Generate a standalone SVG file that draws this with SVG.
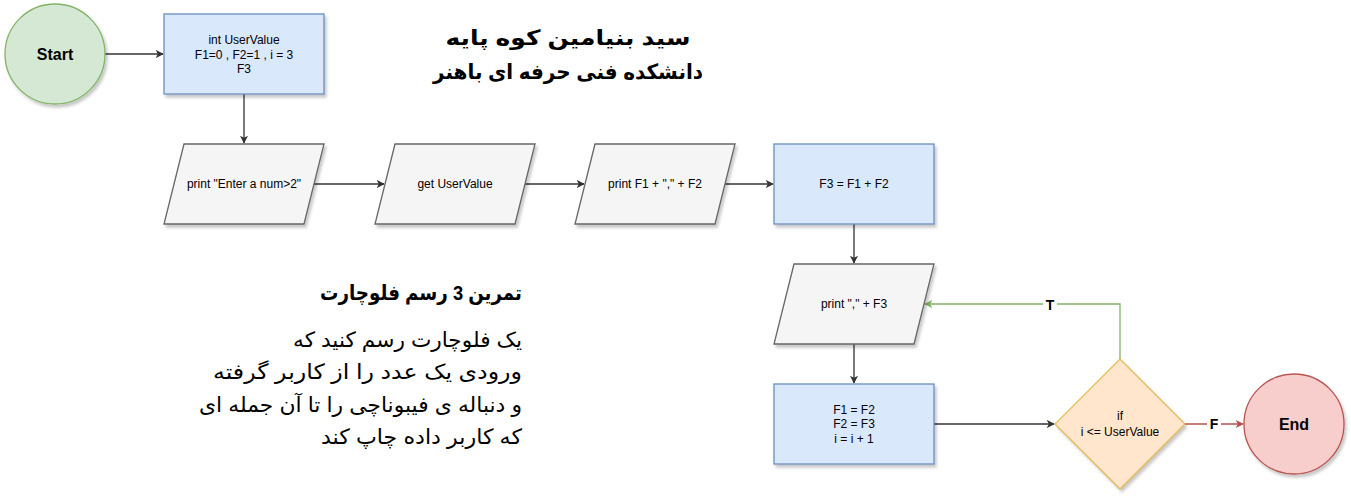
<svg xmlns="http://www.w3.org/2000/svg" width="1351" height="502" viewBox="0 0 1351 502">
<defs>
<filter id="sh" x="-20%" y="-20%" width="150%" height="150%">
<feDropShadow dx="2" dy="3" stdDeviation="1.5" flood-color="#000" flood-opacity="0.22"/>
</filter>
<marker id="ab" viewBox="0 0 10 10" refX="9" refY="5" markerWidth="8" markerHeight="8" markerUnits="userSpaceOnUse" orient="auto"><path d="M0,0 L10,5 L0,10 L2.5,5 Z" fill="#333"/></marker>
<marker id="ag" viewBox="0 0 10 10" refX="9" refY="5" markerWidth="8" markerHeight="8" markerUnits="userSpaceOnUse" orient="auto"><path d="M0,0 L10,5 L0,10 L2.5,5 Z" fill="#82b366"/></marker>
<marker id="ar" viewBox="0 0 10 10" refX="9" refY="5" markerWidth="8" markerHeight="8" markerUnits="userSpaceOnUse" orient="auto"><path d="M0,0 L10,5 L0,10 L2.5,5 Z" fill="#b85450"/></marker>
</defs>
<style>
text{font-family:"Liberation Sans","DejaVu Sans",Arial,sans-serif;fill:#000}
.lbl{font-size:12px;text-anchor:middle}
.big{font-size:16px;font-weight:bold;text-anchor:middle}
.blue{fill:#dae8fc;stroke:#6c8ebf;stroke-width:1.3}
.gray{fill:#f5f5f5;stroke:#666;stroke-width:1.3}
.c{fill:none;stroke:#333;stroke-width:1.3}
.title{font-size:21px;font-weight:bold;text-anchor:middle}
.fa{font-size:21px;text-anchor:end}
</style>
<g id="connectors">
<path class="c" d="M105,54 L163,54" marker-end="url(#ab)"/>
<path class="c" d="M244,94 L244,143" marker-end="url(#ab)"/>
<path class="c" d="M314,184 L384,184" marker-end="url(#ab)"/>
<path class="c" d="M525,184 L584,184" marker-end="url(#ab)"/>
<path class="c" d="M725,184 L773,184" marker-end="url(#ab)"/>
<path class="c" d="M854,224 L854,263" marker-end="url(#ab)"/>
<path class="c" d="M854,344 L854,383" marker-end="url(#ab)"/>
<path class="c" d="M934,424 L1054,424" marker-end="url(#ab)"/>
<path d="M1120,359 L1120,304 L925,304" fill="none" stroke="#82b366" stroke-width="1.3" marker-end="url(#ag)"/>
<path d="M1185,424 L1243,424" fill="none" stroke="#b85450" stroke-width="1.3" marker-end="url(#ar)"/>
<rect x="1043" y="296" width="14" height="16" fill="#fff"/>
<text x="1050" y="310" style="font-size:14px;font-weight:bold;text-anchor:middle">T</text>
<rect x="1207" y="416" width="14" height="16" fill="#fff"/>
<text x="1214" y="429" style="font-size:14px;font-weight:bold;text-anchor:middle">F</text>
</g>
<g id="start">
<circle cx="55" cy="54" r="50" fill="#d5e8d4" stroke="#82b366" stroke-width="1.3" filter="url(#sh)"/>
<text class="big" x="55" y="60">Start</text>
</g>
<g id="init">
<rect class="blue" x="164" y="14" width="160" height="80" filter="url(#sh)"/>
<text class="lbl" x="244" y="44">int UserValue</text>
<text class="lbl" x="244" y="59">F1=0 , F2=1 , i = 3</text>
<text class="lbl" x="244" y="73">F3</text>
</g>
<g id="print1">
<polygon class="gray" points="184,144 324,144 304,224 164,224" filter="url(#sh)"/>
<text class="lbl" x="244" y="188">print "Enter a num&gt;2"</text>
</g>
<g id="get">
<polygon class="gray" points="395,144 535,144 515,224 375,224" filter="url(#sh)"/>
<text class="lbl" x="455" y="188">get UserValue</text>
</g>
<g id="print2">
<polygon class="gray" points="595,144 735,144 715,224 575,224" filter="url(#sh)"/>
<text class="lbl" x="655" y="188">print F1 + "," + F2</text>
</g>
<g id="calc">
<rect class="blue" x="774" y="144" width="160" height="80" filter="url(#sh)"/>
<text class="lbl" x="854" y="188">F3 = F1 + F2</text>
</g>
<g id="print3">
<polygon class="gray" points="794,264 934,264 914,344 774,344" filter="url(#sh)"/>
<text class="lbl" x="854" y="308">print "," + F3</text>
</g>
<g id="update">
<rect class="blue" x="774" y="384" width="160" height="80" filter="url(#sh)"/>
<text class="lbl" x="854" y="414">F1 = F2</text>
<text class="lbl" x="854" y="428">F2 = F3</text>
<text class="lbl" x="854" y="443">i = i + 1</text>
</g>
<g id="cond">
<polygon points="1120,359 1185,424 1120,489 1055,424" fill="#ffe6cc" stroke="#d79b00" stroke-opacity="0.6" stroke-width="1.3" filter="url(#sh)"/>
<text class="lbl" x="1120" y="420">if</text>
<text class="lbl" x="1120" y="436">i &lt;= UserValue</text>
</g>
<g id="end">
<circle cx="1294" cy="424" r="50" fill="#f8cecc" stroke="#b85450" stroke-width="1.3" filter="url(#sh)"/>
<text class="big" x="1294" y="430">End</text>
</g>
<g id="title">
<text class="title" x="568" y="45" textLength="245" lengthAdjust="spacingAndGlyphs">سید بنیامین کوه پایه</text>
<text class="title" x="568" y="79" textLength="270" lengthAdjust="spacingAndGlyphs">دانشکده فنی حرفه ای باهنر</text>
</g>
<g id="desc">
<text class="fa" x="522" y="300" font-weight="bold" textLength="202" lengthAdjust="spacingAndGlyphs">تمرین 3 رسم فلوچارت</text>
<text class="fa" x="522" y="347" textLength="229" lengthAdjust="spacingAndGlyphs">یک فلوچارت رسم کنید که</text>
<text class="fa" x="522" y="379" textLength="309" lengthAdjust="spacingAndGlyphs">ورودی یک عدد را از کاربر گرفته</text>
<text class="fa" x="522" y="412" textLength="323" lengthAdjust="spacingAndGlyphs">و دنباله ی فیبوناچی را تا آن جمله ای</text>
<text class="fa" x="522" y="444" textLength="201" lengthAdjust="spacingAndGlyphs">که کاربر داده چاپ کند</text>
</g>
</svg>
